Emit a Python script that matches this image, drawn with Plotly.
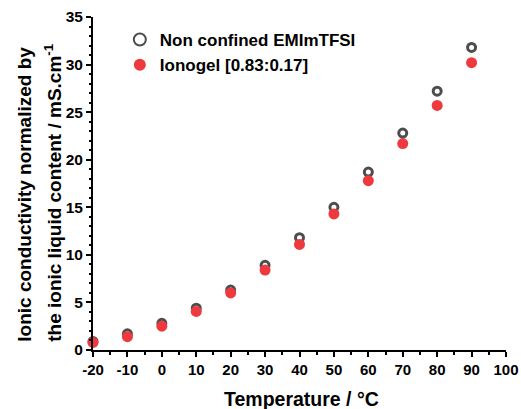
import plotly.graph_objects as go

temps = [-20, -10, 0, 10, 20, 30, 40, 50, 60, 70, 80, 90]
non_confined = [0.9, 1.7, 2.8, 4.4, 6.3, 8.9, 11.8, 15.0, 18.7, 22.8, 27.2, 31.8]
ionogel = [0.8, 1.4, 2.5, 4.05, 6.0, 8.4, 11.1, 14.3, 17.8, 21.7, 25.7, 30.2]
x_ticks = [-20, -10, 0, 10, 20, 30, 40, 50, 60, 70, 80, 90, 100]
y_ticks = [0, 5, 10, 15, 20, 25, 30, 35]
y_title_lines = ["Ionic conductivity normalized by",
                 "the ionic liquid content / mS.cm<sup>-1</sup>"]
x_title = "Temperature / °C"

font_family = "Liberation Sans, Arial, sans-serif"

fig = go.Figure()
fig.add_trace(go.Scatter(
    x=temps, y=non_confined, mode="markers", name="Non confined EMImTFSI",
    marker=dict(symbol="circle-open", size=8, color="#4d4d4d", line=dict(width=3, color="#4d4d4d")),
    cliponaxis=False,
))
fig.add_trace(go.Scatter(
    x=temps, y=ionogel, mode="markers", name="Ionogel [0.83:0.17]",
    marker=dict(symbol="circle", size=11, color="#ee3a3f"),
    cliponaxis=False,
))

# y-axis title, two lines aligned at the bottom
for txt, xp in zip(y_title_lines, [-0.165, -0.097]):
    fig.add_annotation(
        text=txt, xref="paper", yref="paper", x=xp, y=0.02,
        xanchor="center", yanchor="bottom", textangle=-90, showarrow=False,
        font=dict(size=19, family=font_family, color="black", weight="bold"),
    )
fig.add_annotation(
    text=x_title, xref="paper", yref="paper", x=0.504, y=-0.147,
    xanchor="center", yanchor="middle", showarrow=False,
    font=dict(size=19.5, family=font_family, color="black", weight="bold"),
)

fig.update_layout(
    width=521, height=409,
    margin=dict(l=93, r=15, t=17, b=59),
    paper_bgcolor="white", plot_bgcolor="white",
    font=dict(family=font_family, color="black", size=13),
    showlegend=True,
    legend=dict(x=0.065, y=0.985, xanchor="left", yanchor="top",
                bgcolor="rgba(0,0,0,0)", font=dict(size=17, family=font_family, weight="bold"),
                itemsizing="constant", tracegroupgap=0),
    xaxis=dict(
        range=[-20, 100], tickmode="array", tickvals=x_ticks, ticktext=[str(v) for v in x_ticks],
        showgrid=False, zeroline=False, showline=True, linecolor="black", linewidth=2,
        ticks="outside", ticklen=5, tickwidth=2, tickcolor="black", automargin=False,
        minor=dict(ticks="outside", dtick=5, tick0=-20, ticklen=3, tickwidth=1.5, tickcolor="black"),
        tickfont=dict(size=15, family=font_family, weight="bold"),
    ),
    yaxis=dict(
        range=[0, 35], tickmode="array", tickvals=y_ticks, ticktext=[str(v) for v in y_ticks],
        showgrid=False, zeroline=False, showline=True, linecolor="black", linewidth=2,
        ticks="outside", ticklen=5, tickwidth=2, tickcolor="black", automargin=False,
        minor=dict(ticks="outside", dtick=1, tick0=0, ticklen=2, tickwidth=1.5, tickcolor="black"),
        tickfont=dict(size=15.5, family=font_family, weight="bold"),
    ),
)

fig.write_html("out.html")
